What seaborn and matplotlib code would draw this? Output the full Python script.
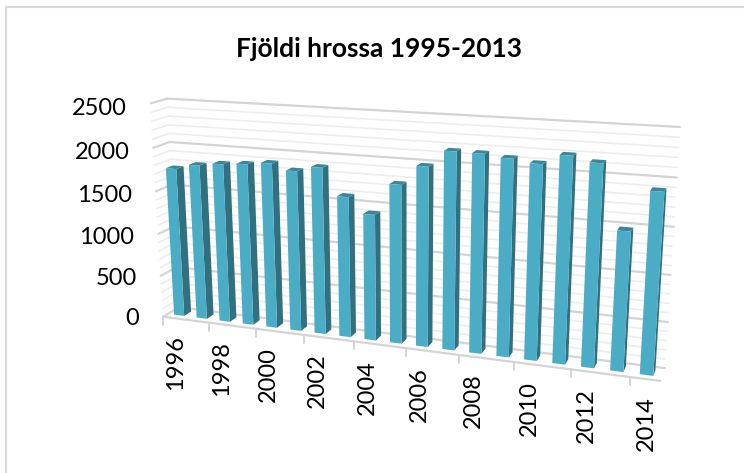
import numpy as np
import seaborn as sns
from matplotlib import pyplot as plt
from matplotlib.transforms import Transform, IdentityTransform

years = list(range(1996, 2015))
hross = [1750, 1810, 1845, 1865, 1895, 1830, 1890, 1590, 1420, 1770,
         1985, 2165, 2160, 2130, 2095, 2200, 2145, 1480, 1905]
y_ticks = [0, 500, 1000, 1500, 2000, 2500]
title = 'Fjöldi hrossa 1995-2013'

W, H = 744, 473
Y_MAX = 2500
BAR_FRONT, BAR_BACK = 0.3, 0.75

# camera calibration: box corners (x, value, depth) -> pixels of the picture
box = [(0, 0, 0), (1, 0, 0), (0, 0, 1), (1, 0, 1), (0, 1, 0), (0, 1, 1), (1, 1, 1)]
pix = [(164, 317), (660, 381), (178, 307), (665, 368), (150, 103), (168, 99), (680, 127)]

rows = []
for (a, b, c), (px, py) in zip(box, pix):
    py = H - py
    rows.append([a, b, c, 1, 0, 0, 0, 0, -px * a, -px * b, -px * c, -px])
    rows.append([0, 0, 0, 0, a, b, c, 1, -py * a, -py * b, -py * c, -py])
P = np.linalg.svd(np.array(rows, float))[2][-1].reshape(3, 4)


def project(x, y, z):
    x, y, z = np.broadcast_arrays(x, y, z)
    q = np.stack([(x + 0.5) / len(years), y / Y_MAX, z, np.ones(x.shape)], axis=-1) @ P.T
    return q[..., :2] / q[..., 2:]


class Plane(Transform):
    # data x/y to pixels on a plane of constant depth
    input_dims = 2
    output_dims = 2

    def __init__(self, plane_z):
        super().__init__()
        self.plane_z = plane_z

    def transform_non_affine(self, values):
        values = np.asarray(values, float)
        return project(values[:, 0], values[:, 1], self.plane_z)


sns.set_theme(style='white')
plt.rcParams['font.family'] = ['Lato', 'DejaVu Sans']

fig = plt.figure(figsize=(W / 100, H / 100), dpi=100)
ax = fig.add_axes([0, 0, 1, 1])

sns.barplot(x=years, y=hross, color='#4BACC6', saturation=1, width=0.45, ax=ax, zorder=5)
ax.axis('off')

# walls
left_x, right_x = -0.5, len(years) - 0.5
back = Plane(1)
none = IdentityTransform()
for v in range(0, Y_MAX + 1, 100):
    major = v % 500 == 0
    col = '#D4D4D4' if major else '#EDEDED'
    lw = 1.6 if major else 1.2
    ax.plot([left_x, right_x], [v, v], color=col, lw=lw, transform=back, zorder=2, clip_on=False)
    pts = project(left_x, v, np.array([0, 1]))
    ax.plot(pts[:, 0], pts[:, 1], color=col, lw=lw, transform=none, zorder=2, clip_on=False)

# floor front edge and ticks
ax.plot([left_x, right_x], [0, 0], color='#D4D4D4', lw=1.6, transform=Plane(0), zorder=2, clip_on=False)
for i in range(0, len(years) + 1, 2):
    px, py = project(i - 0.5, 0, 0)
    ax.plot([px, px], [py, py - 8], color='#D4D4D4', lw=1.4, transform=none, zorder=2, clip_on=False)

# bars: seaborn's rectangles become the front faces, sides and tops follow them
for patch in ax.patches:
    x0, w, h = patch.get_x(), patch.get_width(), patch.get_height()
    patch.set_transform(Plane(BAR_FRONT))
    patch.set_clip_on(False)
    patch.set_edgecolor('none')
    side = project(np.array([x0 + w, x0 + w, x0 + w, x0 + w]), np.array([0, h, h, 0]),
                   np.array([BAR_FRONT, BAR_FRONT, BAR_BACK, BAR_BACK]))
    top = project(np.array([x0, x0 + w, x0 + w, x0]), h,
                  np.array([BAR_FRONT, BAR_FRONT, BAR_BACK, BAR_BACK]))
    ax.fill(side[:, 0], side[:, 1], color='#31707F', lw=0, transform=none, zorder=4, clip_on=False)
    ax.fill(top[:, 0], top[:, 1], color='#3A8799', lw=0, transform=none, zorder=4, clip_on=False)

for v in y_ticks:
    px, py = project(left_x, v, 0)
    ax.text(px - 24, py - 1.5 - 4 * v / Y_MAX, str(v), ha='right', va='center', fontsize=17,
            color='black', transform=none)

for i in range(0, len(years), 2):
    px, py = project(i, 0, 0)
    ax.text(px + 1, py - 17, str(years[i]), rotation=90, ha='center', va='top', fontsize=17,
            color='black', transform=none)

fig.text(379 / W, 1 - 49 / H, title, ha='center', va='center', fontsize=19,
         fontweight='bold', color='black')
ax.plot([6, 6, W], [0, H - 7, H - 7], color='#D9D9D9', lw=1.5, transform=none, clip_on=False)

fig.savefig('out.png', dpi=100)
